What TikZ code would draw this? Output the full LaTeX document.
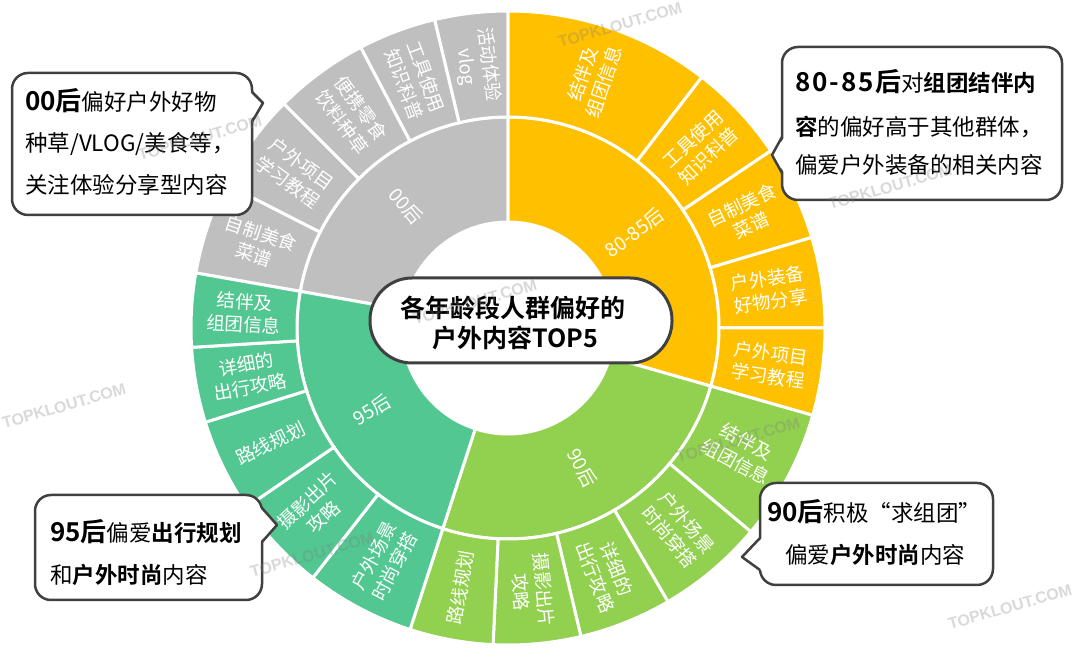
\documentclass[tikz,border=0pt]{standalone}
\usepackage{fontspec}
\setmainfont{Noto Sans CJK SC}[BoldFont={Noto Sans CJK SC Bold}]
\newfontfamily\wmfont{Liberation Sans}
\definecolor{cgray}{HTML}{BFBFBF}
\definecolor{corange}{HTML}{FFC000}
\definecolor{clgreen}{HTML}{92D050}
\definecolor{cteal}{HTML}{52C791}
\definecolor{cborder}{HTML}{404040}
\newcommand\annsec[5]{\filldraw[fill=#1,draw=white,line width=3pt] (#2:#4pt) arc[start angle=#2,end angle=#3,radius=#4pt] -- (#3:#5pt) arc[start angle=#3,end angle=#2,radius=#5pt] -- cycle;}
\tikzset{
  seglab/.style={text=white,align=center,inner sep=0pt,font=\fontsize{18.5}{23}\selectfont},
  ringlab/.style={text=white,inner sep=0pt,font=\fontsize{19}{23}\selectfont},
  bubble/.style={draw=cborder,line width=2.5pt,fill=white,rounded corners=16pt},
  ptredge/.style={draw=cborder,line width=2.5pt,line join=round},
  btxt/.style={anchor=base west,inner sep=0pt,text=black,font=\fontsize{22.5}{27}\selectfont},
  ttxt/.style={anchor=base,inner sep=0pt,text=black,font=\bfseries\fontsize{25}{30}\selectfont},
  wm/.style={text=gray,opacity=0.3,inner sep=0pt,font=\wmfont\bfseries\fontsize{16}{16}\selectfont,rotate=16}
}
\newcommand\bignum[1]{\textbf{\fontsize{26}{27}\selectfont #1}}
\begin{document}
\begin{tikzpicture}[x=1pt,y=1pt]
\useasboundingbox (0,0) rectangle (1080,663);
\begin{scope}[shift={(508,335)}]
% inner ring
\annsec{cgray}{90}{170}{106}{211}
\annsec{corange}{-16}{90}{106}{211}
\annsec{clgreen}{-108}{-16}{106}{211}
\annsec{cteal}{170}{252}{106}{211}
% outer ring 00
\annsec{cgray}{90}{103.4}{211}{317}
\annsec{cgray}{103.4}{117.7}{211}{317}
\annsec{cgray}{117.7}{135}{211}{317}
\annsec{cgray}{135}{153}{211}{317}
\annsec{cgray}{153}{170}{211}{317}
% outer ring 80-85
\annsec{corange}{52.3}{90}{211}{317}
\annsec{corange}{34}{52.3}{211}{317}
\annsec{corange}{16.6}{34}{211}{317}
\annsec{corange}{0}{16.6}{211}{317}
\annsec{corange}{-16}{0}{211}{317}
% outer ring 90
\annsec{clgreen}{-40}{-16}{211}{317}
\annsec{clgreen}{-59.7}{-40}{211}{317}
\annsec{clgreen}{-76.7}{-59.7}{211}{317}
\annsec{clgreen}{-92.7}{-76.7}{211}{317}
\annsec{clgreen}{-108}{-92.7}{211}{317}
% outer ring 95
\annsec{cteal}{232}{252}{211}{317}
\annsec{cteal}{214.4}{232}{211}{317}
\annsec{cteal}{197.3}{214.4}{211}{317}
\annsec{cteal}{183.5}{197.3}{211}{317}
\annsec{cteal}{170}{183.5}{211}{317}
% inner labels
\node[ringlab,rotate=-50] (r00) at (130:158.5pt) {00后};
\node[ringlab,rotate=37] (r80) at (37:158.5pt) {80-85后};
\node[ringlab,rotate=-62] (r90) at (-62:158.5pt) {90后};
\node[ringlab,rotate=31] (r95) at (-149:158.5pt) {95后};
% outer labels 00
\node[seglab,rotate=-83.3] (g1) at (96.7:264pt) {活动体验\\vlog};
\node[seglab,rotate=-69.45] (g2) at (110.55:264pt) {工具使用\\知识科普};
\node[seglab,rotate=-53.65] (g3) at (126.35:264pt) {便携零食\\饮料种草};
\node[seglab,rotate=-36] (g4) at (144:264pt) {户外项目\\学习教程};
\node[seglab,rotate=-18.5] (g5) at (161.5:264pt) {自制美食\\菜谱};
% outer labels 80-85
\node[seglab,rotate=71.15] (o1) at (71.15:264pt) {结伴及\\组团信息};
\node[seglab,rotate=43.15] (o2) at (43.15:264pt) {工具使用\\知识科普};
\node[seglab,rotate=25.3] (o3) at (25.3:264pt) {自制美食\\菜谱};
\node[seglab,rotate=8.3] (o4) at (8.3:264pt) {户外装备\\好物分享};
\node[seglab,rotate=-8] (o5) at (-8:264pt) {户外项目\\学习教程};
% outer labels 90
\node[seglab,rotate=-28] (l1) at (-28:264pt) {结伴及\\组团信息};
\node[seglab,rotate=-49.85] (l2) at (-49.85:264pt) {户外场景\\时尚穿搭};
\node[seglab,rotate=-68.2] (l3) at (-68.2:264pt) {详细的\\出行攻略};
\node[seglab,rotate=-84.7] (l4) at (-84.7:264pt) {摄影出片\\攻略};
\node[seglab,rotate=79.65] (l5) at (-100.35:264pt) {路线规划};
% outer labels 95
\node[seglab,rotate=62] (t1) at (-118:264pt) {户外场景\\时尚穿搭};
\node[seglab,rotate=43.2] (t2) at (-136.8:264pt) {摄影出片\\攻略};
\node[seglab,rotate=25.85] (t3) at (-154.15:264pt) {路线规划};
\node[seglab,rotate=10.4] (t4) at (-169.6:264pt) {详细的\\出行攻略};
\node[seglab,rotate=-3.25] (t5) at (-183.25:264pt) {结伴及\\组团信息};
\end{scope}
% title
\node[draw=cborder,line width=3pt,fill=white,rounded corners=42pt,minimum width=302pt,minimum height=85pt,inner sep=0pt] (titlebox) at (521,342.5) {};
\node[ttxt] (title1) at (513,345.5) {各年龄段人群偏好的};
\node[ttxt] (title2) at (515,315.5) {户外内容TOP5};
% bubble 1
\draw[bubble] (12,448) rectangle (252,590);
\fill[white] (248,573) -- (263,560) -- (248,539) -- cycle;
\draw[ptredge] (252,571) -- (263,560) -- (252,541);
\node[btxt] (b1a) at (25,552.5) {\bignum{00后}偏好户外好物};
\node[btxt] (b1b) at (25,511.5) {种草/VLOG/美食等，};
\node[btxt] (b1c) at (25,469.5) {关注体验分享型内容};
% bubble 2
\draw[bubble] (782,463) rectangle (1062,616);
\fill[white] (786,528) -- (772,508) -- (786,488) -- cycle;
\draw[ptredge] (782,526) -- (772,508) -- (782,490);
\node[btxt] (b2a) at (795,571.5) {\bignum{8\kern2pt 0\kern2pt -\kern2pt 8\kern2pt 5\kern1pt 后}对\textbf{组团结伴内}};
\node[btxt] (b2b) at (795,527.5) {\textbf{容}的偏好高于其他群体，};
\node[btxt] (b2c) at (795,489.5) {偏爱户外装备的相关内容};
% bubble 3
\draw[bubble] (35,63) rectangle (262,168);
\fill[white] (258,157) -- (277,138) -- (258,119) -- cycle;
\draw[ptredge] (262,155) -- (277,138) -- (262,121);
\node[btxt] (b3a) at (50,121.5) {\bignum{95后}偏爱\textbf{出行规划}};
\node[btxt] (b3b) at (50,79.5) {和\textbf{户外时尚}内容};
% bubble 4
\draw[bubble] (760,78) rectangle (993,180);
\fill[white] (764,127) -- (742,106) -- (764,91) -- cycle;
\draw[ptredge] (760,125) -- (742,106) -- (760,93);
\node[btxt] (b4a) at (767,141.5) {\bignum{90后}积极“求组团”};
\node[btxt] (b4b) at (785,99.5) {偏爱\textbf{户外时尚}内容};
% watermarks
\node[wm] (wm1) at (64,257) {TOPKLOUT.COM};
\node[wm] (wm2) at (200,525) {TOPKLOUT.COM};
\node[wm] (wm3) at (620,638) {TOPKLOUT.COM};
\node[wm] (wm4) at (738,223) {TOPKLOUT.COM};
\node[wm] (wm5) at (1010,56) {TOPKLOUT.COM};
\node[wm] (wm6) at (312,108) {TOPKLOUT.COM};
\node[wm] (wm7) at (475,361) {TOPKLOUT.COM};
\node[wm] (wm8) at (890,476) {TOPKLOUT.COM};
\end{tikzpicture}
\end{document}
